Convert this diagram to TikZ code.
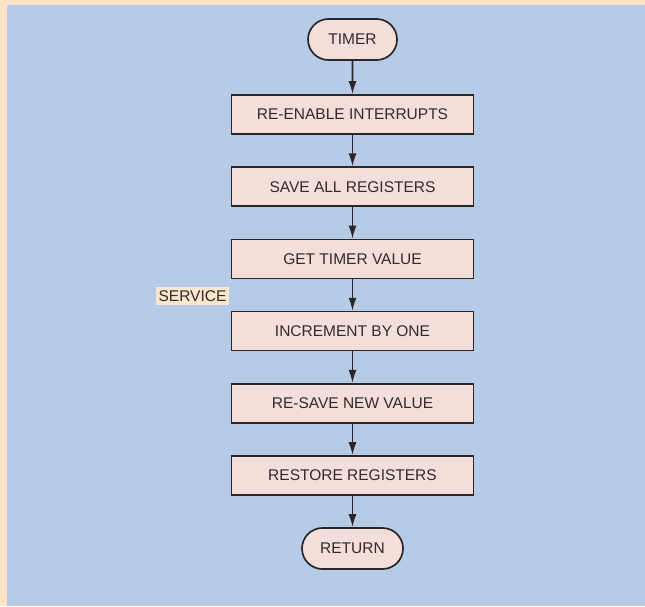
\documentclass[tikz,border=0pt]{standalone}
\usepackage{fontspec}
\setmainfont{Liberation Sans}
\usetikzlibrary{arrows.meta,shapes.misc}
\definecolor{bgbeige}{HTML}{FBE3C6}
\definecolor{bgblue}{HTML}{B6CBE8}
\definecolor{boxfill}{HTML}{F3DEDA}
\definecolor{inkc}{HTML}{2A2628}
\definecolor{txtc}{HTML}{322A2C}
\definecolor{lblfill}{HTML}{FBE6CE}
\begin{document}
\begin{tikzpicture}[x=1pt,y=-1pt,
  stepbox/.style={draw=inkc,line width=1.7pt,fill=boxfill,minimum width=242pt,minimum height=39pt,inner sep=0pt,font=\fontsize{15.5}{15.5}\selectfont,text=txtc},
  termbox/.style={draw=inkc,line width=1.7pt,fill=boxfill,rounded rectangle,minimum height=41pt,inner sep=0pt,font=\fontsize{15.5}{15.5}\selectfont,text=txtc},
  flow/.style={draw=inkc,line width=1.6pt,-{Latex[length=13pt,width=8pt]}}]
\useasboundingbox (0,0) rectangle (645,606);
\fill[bgbeige] (0,0) rectangle (645,606);
\fill[bgblue] (7,5) rectangle (645,606);
\node[termbox,minimum width=89pt] (timer) at (352.5,39.5) {TIMER};
\node[stepbox] (b1) at (352.5,114.5) {RE-ENABLE INTERRUPTS};
\node[stepbox] (b2) at (352.5,186.7) {SAVE ALL REGISTERS};
\node[stepbox] (b3) at (352.5,258.9) {GET TIMER VALUE};
\node[stepbox] (b4) at (352.5,331.1) {INCREMENT BY ONE};
\node[stepbox] (b5) at (352.5,403.3) {RE-SAVE NEW VALUE};
\node[stepbox] (b6) at (352.5,475.5) {RESTORE REGISTERS};
\node[termbox,minimum width=101pt] (ret) at (352.5,548.5) {RETURN};
\node[fill=lblfill,inner xsep=3pt,inner ysep=4pt,font=\fontsize{15.5}{15.5}\selectfont,text=txtc] (svc) at (192.5,296) {SERVICE};
\draw[flow] (timer) -- (b1);
\draw[flow] (b1) -- (b2);
\draw[flow] (b2) -- (b3);
\draw[flow] (b3) -- (b4);
\draw[flow] (b4) -- (b5);
\draw[flow] (b5) -- (b6);
\draw[flow] (b6) -- (ret);
\end{tikzpicture}
\end{document}
